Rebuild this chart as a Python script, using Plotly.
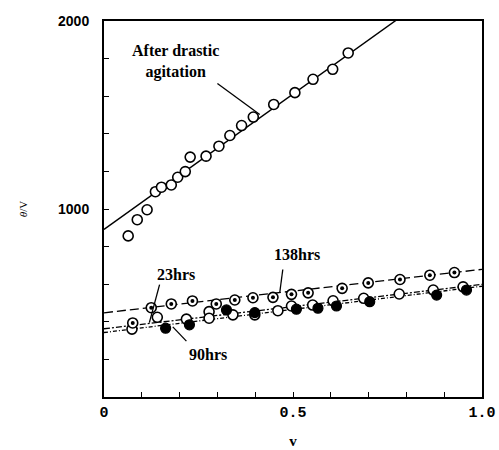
import numpy as np
import plotly.graph_objects as go

# ---- data ----
agit_x = [0.064, 0.088, 0.114, 0.136, 0.152, 0.178, 0.195, 0.215, 0.228, 0.270,
          0.304, 0.333, 0.364, 0.395, 0.449, 0.505, 0.553, 0.605, 0.646]
agit_y = [857, 943, 996, 1092, 1116, 1128, 1169, 1199, 1276, 1281,
          1334, 1391, 1444, 1489, 1556, 1619, 1690, 1743, 1830]

h138_x = [0.076, 0.125, 0.178, 0.234, 0.297, 0.346, 0.394, 0.447, 0.496, 0.540,
          0.630, 0.699, 0.783, 0.862, 0.927]
h138_y = [394, 475, 495, 511, 495, 516, 528, 530, 546, 554,
          578, 607, 625, 648, 662]

h23_x = [0.074, 0.141, 0.218, 0.278, 0.278, 0.341, 0.399, 0.460, 0.496, 0.552,
         0.606, 0.687, 0.781, 0.871, 0.950]
h23_y = [361, 424, 414, 454, 419, 437, 437, 459, 484, 489,
         512, 525, 548, 569, 586]

h90_x = [0.163, 0.226, 0.324, 0.399, 0.509, 0.566, 0.615, 0.703, 0.880, 0.959]
h90_y = [366, 384, 463, 449, 467, 472, 484, 507, 542, 569]

# fitted straight lines: (intercept, slope, x_end)
agit_fit = (891, 1440, 0.772)
h138_fit = (448, 231, 1.0)
h23_fit = (363, 236, 1.0)
h90_fit = (343, 246, 1.0)

x_ticklabels = {0: "0", 0.5: "0.5", 1.0: "1.0"}
y_ticklabels = {1000: "1000", 2000: "2000"}

SERIF = "Liberation Serif"

fig = go.Figure()

def fit_line(fit, dash, width=1.3):
    b, m, xe = fit
    xs = np.array([0.0, xe])
    fig.add_trace(go.Scatter(x=xs, y=b + m * xs, mode="lines",
                             line=dict(color="black", width=width, dash=dash),
                             showlegend=False, hoverinfo="skip"))

fit_line(agit_fit, "solid", 1.5)
fit_line(h138_fit, "9px,4px")
fit_line(h23_fit, "6px,2px,2px,2px")
fit_line(h90_fit, "4px,2px,1px,2px")

open_marker = dict(symbol="circle", size=10, color="white",
                   line=dict(color="black", width=1.6))
fig.add_trace(go.Scatter(x=agit_x, y=agit_y, mode="markers", marker=open_marker,
                         showlegend=False))
fig.add_trace(go.Scatter(x=h23_x, y=h23_y, mode="markers", marker=open_marker,
                         showlegend=False))
fig.add_trace(go.Scatter(x=h138_x, y=h138_y, mode="markers", marker=open_marker,
                         showlegend=False))
fig.add_trace(go.Scatter(x=h138_x, y=h138_y, mode="markers",
                         marker=dict(symbol="circle", size=4, color="black"),
                         showlegend=False))
fig.add_trace(go.Scatter(x=h90_x, y=h90_y, mode="markers",
                         marker=dict(symbol="circle", size=10, color="black",
                                     line=dict(color="black", width=1.2)),
                         showlegend=False))

# labels with pointer lines
labels = [
    ("After drastic<br>agitation", 0.19, 1786, (0.30, 1668), (0.412, 1503)),
    ("138hrs", 0.51, 758, (0.473, 678), (0.465, 556)),
    ("23hrs", 0.19, 652, (0.147, 598), (0.12, 396)),
    ("90hrs", 0.274, 226, (0.218, 297), (0.182, 373)),
]
for text, tx, ty, p0, p1 in labels:
    fig.add_annotation(x=tx, y=ty, text=text, showarrow=False, align="center",
                       font=dict(family=SERIF, size=16, color="black", weight="bold"))
    fig.add_shape(type="line", x0=p0[0], y0=p0[1], x1=p1[0], y1=p1[1],
                  line=dict(color="black", width=1.3))

xt = [round(i * 0.1, 1) for i in range(11)]
yt = [i * 200 for i in range(11)]

fig.update_layout(
    width=499, height=450,
    margin=dict(l=104, r=17, t=21, b=53),
    paper_bgcolor="white", plot_bgcolor="white",
    xaxis=dict(range=[0, 1.0], tickvals=xt, automargin=False,
               ticktext=[x_ticklabels.get(v, "") for v in xt],
               ticks="inside", ticklen=5, tickwidth=1.2, tickcolor="black",
               showline=True, linecolor="black", linewidth=2, mirror=True,
               showgrid=False, zeroline=False,
               tickfont=dict(family="Liberation Mono", size=15, color="black", weight="bold"),
               title=dict(text="v", font=dict(family=SERIF, size=15, color="black", weight="bold"),
                          standoff=14)),
    yaxis=dict(range=[0, 2000], tickvals=yt, automargin=False,
               ticktext=[y_ticklabels.get(v, "") for v in yt],
               ticks="inside", ticklen=5, tickwidth=1.2, tickcolor="black",
               showline=True, linecolor="black", linewidth=2, mirror=True,
               showgrid=False, zeroline=False, ticklabelstandoff=10,
               tickfont=dict(family="Liberation Sans", size=14, color="black", weight="bold"),
               title=dict(text="<i>θ</i>/V", font=dict(family=SERIF, size=11, color="black"),
                          standoff=28)),
)

fig.write_html("out.html")
